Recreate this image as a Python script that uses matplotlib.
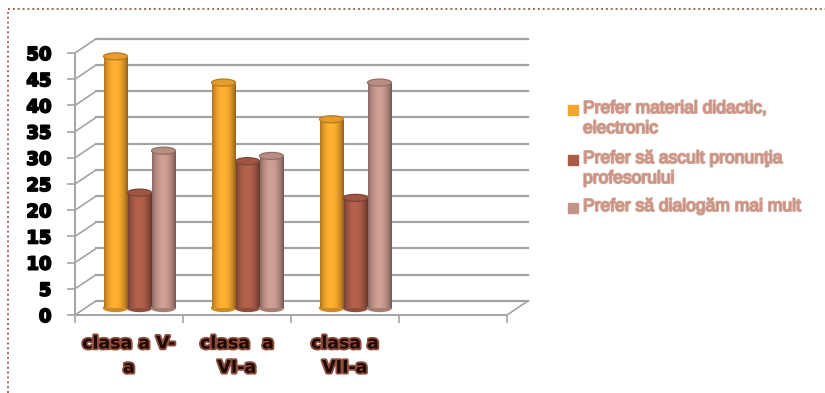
import numpy as np
import matplotlib
matplotlib.use('Agg')
import matplotlib.pyplot as plt
import matplotlib.patheffects as pe
from matplotlib.patches import Ellipse, Rectangle
from matplotlib.lines import Line2D
from matplotlib.colors import to_rgb

categories = ['clasa a V-\na', 'clasa  a\nVI-a', 'clasa a\nVII-a', '']
series_names = ['Prefer material didactic,\nelectronic',
                'Prefer să ascult pronunţia\nprofesorului',
                'Prefer să dialogăm mai mult']
material_didactic = [48, 43, 36]
pronuntia = [22, 28, 21]
dialog = [30, 29, 43]
y_ticks = list(range(0, 55, 5))

colors = ['#F2A42C', '#A85B47', '#C29489']
legend_text_color = '#C99282'

# 3d look: depth of the box in data units
DX = 0.195
DY = 2.7
BAR_W = 0.222
CAP_H = 1.35

fig = plt.figure(figsize=(8.25, 3.93), dpi=100)
ax = fig.add_axes([75 / 825, 78 / 393, 432 / 825, 262 / 393])
ax.set_xlim(0, len(categories))
ax.set_ylim(0, 50)

grid_c = '#A4A4A4'
# back wall gridlines + side wall diagonals
for v in y_ticks:
    ax.plot([DX, len(categories) + DX], [v + DY, v + DY], color=grid_c, lw=1.6, clip_on=False, zorder=1)
    ax.plot([0, DX], [v, v + DY], color=grid_c, lw=1.2, clip_on=False, zorder=1)
# floor right diagonal
ax.plot([len(categories), len(categories) + DX], [0, DY], color=grid_c, lw=1.2, clip_on=False, zorder=1)

for s in ['top', 'right']:
    ax.spines[s].set_visible(False)
for s in ['left', 'bottom']:
    ax.spines[s].set_color(grid_c)
    ax.spines[s].set_linewidth(1.4)
ax.patch.set_alpha(0)

ax.set_yticks(y_ticks)
ax.set_yticklabels([str(t) for t in y_ticks], fontsize=13, fontweight='heavy', color='black')
ax.tick_params(axis='y', length=6, width=1.2, color=grid_c, pad=11)
for lab in ax.get_yticklabels():
    lab.set_path_effects([pe.withStroke(linewidth=1.3, foreground='black')])
ax.set_xticks(range(len(categories) + 1))
ax.set_xticklabels([''] * (len(categories) + 1))
ax.tick_params(axis='x', length=6, width=1.2, color=grid_c)
ax.set_xticks([i + 0.5 for i in range(len(categories))], minor=True)
ax.set_xticklabels(categories, minor=True, fontsize=12.5, fontweight='heavy', color='#1e0803',
                   linespacing=1.45)
ax.tick_params(axis='x', which='minor', length=0, pad=14)
for lab in ax.get_xticklabels(minor=True):
    lab.set_path_effects([pe.withStroke(linewidth=2.6, foreground='#8e4e3c')])


def shade(c):
    base = np.array(to_rgb(c))
    t = np.linspace(0, 1, 64)
    f = 0.7 + 0.44 * np.sin(np.pi * t) ** 0.8 - 0.12 * t
    f = np.clip(f, 0, 1.15)
    img = np.clip(base[None, :] * f[:, None], 0, 1)
    return img[None, :, :]


all_series = [material_didactic, pronuntia, dialog]
for j, vals in enumerate(all_series):
    xs = [i + 0.5 + DX / 2 + (j - 1) * BAR_W for i in range(len(vals))]
    bars = ax.bar(xs, vals, width=BAR_W, bottom=DY / 2, color=colors[j], zorder=3 + j, clip_on=False)
    for b in bars:
        x0, y0, w, h = b.get_x(), b.get_y(), b.get_width(), b.get_height()
        xc = x0 + w / 2
        bottom = Ellipse((xc, y0), w, CAP_H, color=np.array(to_rgb(colors[j])) * 0.85,
                         zorder=2.9 + j, clip_on=False)
        ax.add_patch(bottom)
        im = ax.imshow(shade(colors[j]), extent=(x0, x0 + w, y0, y0 + h), aspect='auto',
                       zorder=3.1 + j, interpolation='bilinear')
        im.set_clip_path(b)
        top = Ellipse((xc, y0 + h), w, CAP_H, facecolor=np.array(to_rgb(colors[j])) * 0.95,
                      edgecolor=np.array(to_rgb(colors[j])) * 0.75, lw=0.9,
                      zorder=3.2 + j, clip_on=False)
        ax.add_patch(top)

ax.set_xlim(0, len(categories))
ax.set_ylim(0, 50)

# legend
legend_y = [110, 160, 208]
for j, name in enumerate(series_names):
    yf = 1 - legend_y[j] / 393
    fig.patches.append(Rectangle((568 / 825, yf - 5 / 393), 10 / 825, 10 / 393,
                                 transform=fig.transFigure, color=colors[j]))
    fig.text(583 / 825, yf + 9 / 393, name, fontsize=12.6, family='Liberation Sans',
             color=legend_text_color, va='top', ha='left', linespacing=1.42,
             path_effects=[pe.withStroke(linewidth=1.4, foreground='#d4a89b')])

# dotted frame
fig.add_artist(Line2D([8 / 825, 1], [1 - 9 / 393, 1 - 9 / 393], transform=fig.transFigure,
                      color='#9C6A5A', lw=1.4, ls=(0, (1, 1.5))))
fig.add_artist(Line2D([8 / 825, 8 / 825], [0, 1 - 9 / 393], transform=fig.transFigure,
                      color='#9C6A5A', lw=1.4, ls=(0, (1, 1.5))))

fig.savefig('out.png', dpi=100)
